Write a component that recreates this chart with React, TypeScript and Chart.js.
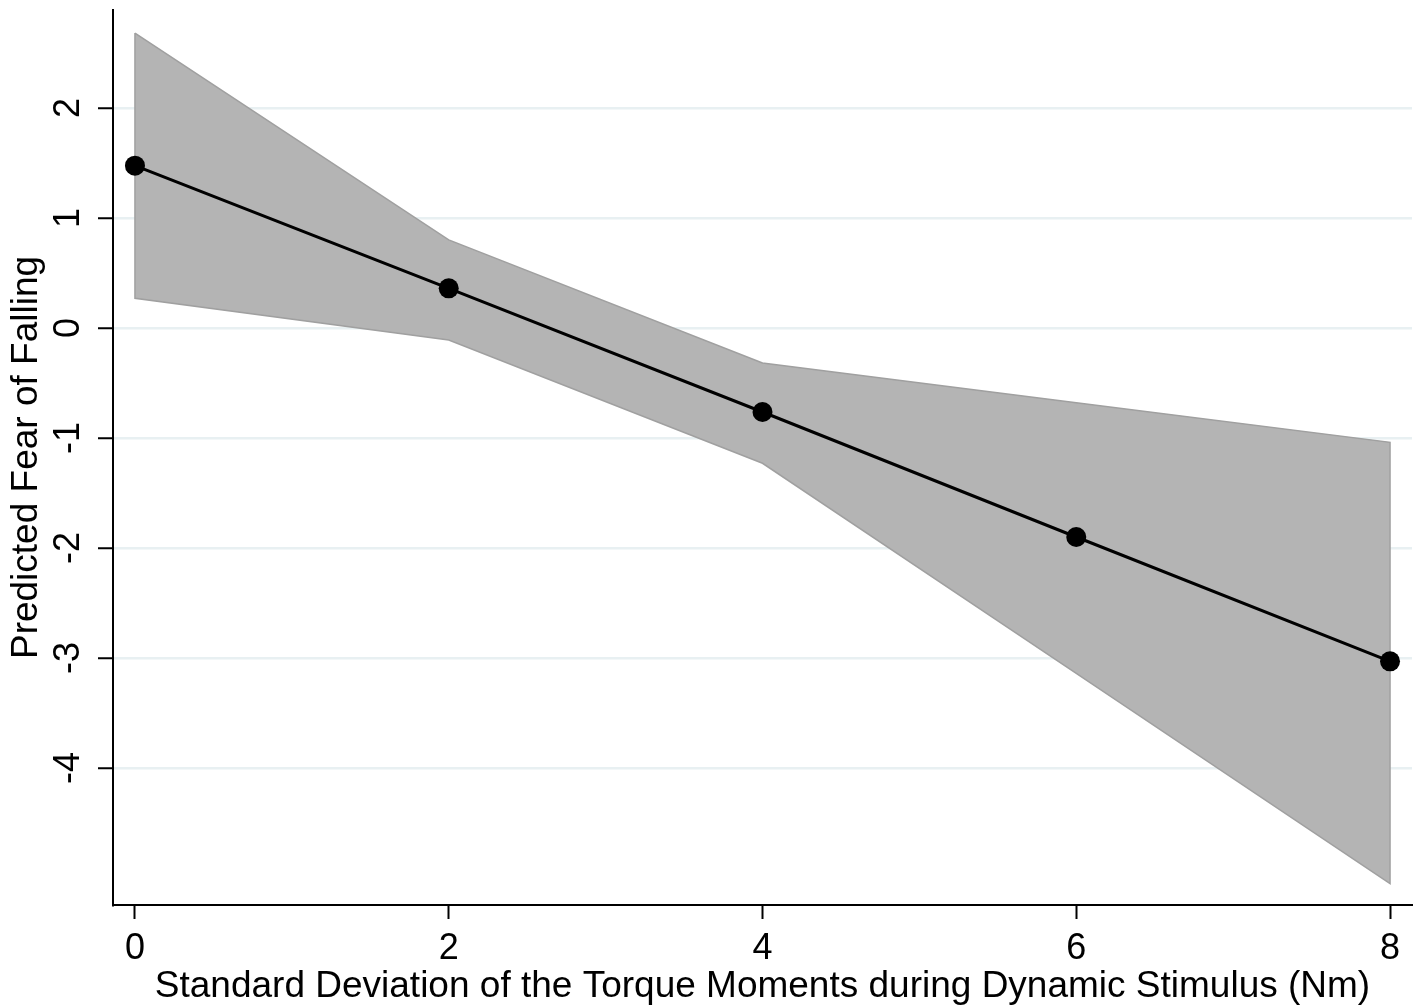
import React, { useEffect, useRef } from "react";
import { Chart, registerables } from "chart.js";

Chart.register(...registerables);

const xValues = [0, 2, 4, 6, 8];
const predicted = [1.475, 0.36, -0.764, -1.9, -3.03];
const ciUpper = [2.68, 0.8, -0.318, -0.68, -1.04];
const ciLower = [0.27, -0.11, -1.23, -3.14, -5.05];
const xTicks = [0, 2, 4, 6, 8];
const yTicks = [-4, -3, -2, -1, 0, 1, 2];
const xTitle = "Standard Deviation of the Torque Moments during Dynamic Stimulus (Nm)";
const yTitle = "Predicted Fear of Falling";

const FONT = "'Liberation Sans', Arial, Helvetica, sans-serif";

export default function App() {
  const ref = useRef<HTMLCanvasElement | null>(null);

  useEffect(() => {
    if (!ref.current) return;
    const linePts = xValues.map((x, i) => ({ x, y: predicted[i] }));
    const upperPts = xValues.map((x, i) => ({ x, y: ciUpper[i] }));
    const lowerPts = xValues.map((x, i) => ({ x, y: ciLower[i] })).reverse();
    const band = [...upperPts, ...lowerPts, upperPts[0]];

    const chart = new Chart(ref.current, {
      type: "line",
      data: {
        datasets: [
          {
            label: "Predicted",
            data: linePts,
            borderColor: "#000",
            borderWidth: 3,
            pointRadius: 10,
            pointBackgroundColor: "#000",
            pointBorderWidth: 0,
            tension: 0,
            fill: false,
            order: 0,
          },
          {
            label: "CI",
            data: band,
            borderColor: "#a0a0a0",
            borderWidth: 1.5,
            backgroundColor: "#b4b4b4",
            pointRadius: 0,
            tension: 0,
            fill: "shape",
            order: 1,
          } as any,
        ],
      },
      options: {
        responsive: false,
        animation: false,
        layout: { autoPadding: false, padding: { left: 0, right: 4, top: 10, bottom: 0 } },
        plugins: {
          legend: { display: false },
          tooltip: { enabled: false },
        },
        scales: {
          x: {
            type: "linear",
            min: -0.14,
            max: 8.14,
            afterBuildTicks: (scale: any) => {
              scale.ticks = xTicks.map((v) => ({ value: v }));
            },
            afterFit: (scale: any) => {
              scale.height = 101;
              scale.paddingLeft = 0;
              scale.paddingRight = 0;
            },
            ticks: {
              color: "#000",
              font: { family: FONT, size: 36 },
              padding: 8,
              maxRotation: 0,
              minRotation: 0,
              callback: (v: any) => String(v),
            },
            grid: {
              drawOnChartArea: false,
              drawTicks: true,
              tickLength: 14,
              tickColor: "#000",
              tickWidth: 2,
            },
            border: { display: true, color: "#000", width: 2 },
            title: {
              display: true,
              text: xTitle,
              color: "#000",
              font: { family: FONT, size: 37, lineHeight: 1.2 },
              padding: { top: 0, bottom: -3 },
            },
          },
          y: {
            type: "linear",
            min: -5.245,
            max: 2.89,
            afterBuildTicks: (scale: any) => {
              scale.ticks = yTicks.map((v) => ({ value: v }));
            },
            afterFit: (scale: any) => {
              scale.width = 113;
              scale.paddingTop = 0;
              scale.paddingBottom = 0;
            },
            ticks: {
              color: "#000",
              font: { family: FONT, size: 36 },
              padding: 13,
              minRotation: 90,
              maxRotation: 90,
              crossAlign: "center",
              callback: (v: any) => String(v),
            },
            grid: {
              color: "#e8f0f2",
              lineWidth: 2.5,
              drawTicks: true,
              tickLength: 15,
              tickColor: "#000",
              tickWidth: 2,
            },
            border: { display: true, color: "#000", width: 2 },
            title: {
              display: true,
              text: yTitle,
              color: "#000",
              font: { family: FONT, size: 37, lineHeight: 1.2 },
              padding: { top: 5, bottom: 0 },
            },
          },
        },
      } as any,
    });
    return () => chart.destroy();
  }, []);

  return (
    <div style={{ position: "fixed", left: 0, top: 0, width: 1416, height: 1006, background: "#fff" }}>
      <canvas ref={ref} width={1416} height={1006} style={{ display: "block" }} />
    </div>
  );
}
